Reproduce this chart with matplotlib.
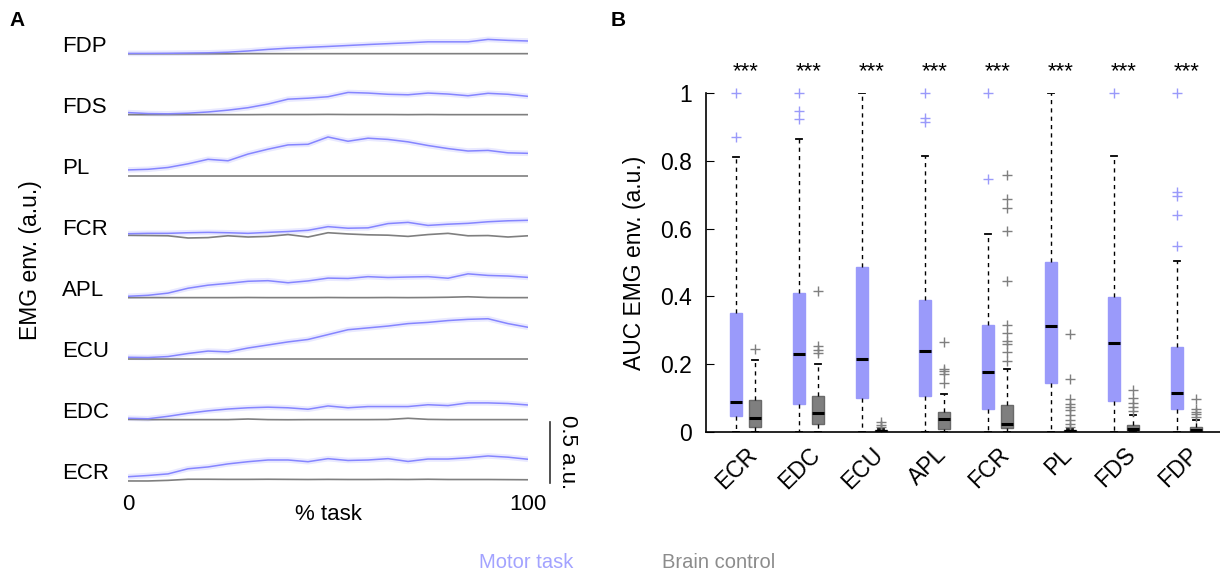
import numpy as np
import matplotlib
matplotlib.use('Agg')
import matplotlib.pyplot as plt

plt.rcParams['font.family'] = ['Liberation Sans', 'DejaVu Sans']

# ---- panel A: mean EMG envelope across the task (a.u., above each baseline) ----
task_pct = [0, 5, 10, 15, 20, 25, 30, 35, 40, 45, 50, 55, 60, 65, 70, 75, 80, 85, 90, 95, 100]
trace_muscles = ['ECR', 'EDC', 'ECU', 'APL', 'FCR', 'PL', 'FDS', 'FDP']  # bottom to top

motor_traces = {
    'ECR': [0.035, 0.045, 0.058, 0.100, 0.115, 0.140, 0.158, 0.172, 0.172, 0.158, 0.183,
            0.168, 0.172, 0.183, 0.160, 0.180, 0.180, 0.190, 0.205, 0.195, 0.178],
    'EDC': [0.014, 0.010, 0.030, 0.055, 0.075, 0.090, 0.100, 0.105, 0.100, 0.088, 0.115,
            0.100, 0.110, 0.110, 0.110, 0.125, 0.118, 0.140, 0.140, 0.135, 0.123],
    'ECU': [0.014, 0.012, 0.020, 0.045, 0.065, 0.058, 0.090, 0.115, 0.140, 0.160, 0.200,
            0.240, 0.255, 0.270, 0.290, 0.300, 0.315, 0.325, 0.330, 0.290, 0.260],
    'APL': [0.014, 0.022, 0.040, 0.080, 0.105, 0.120, 0.137, 0.142, 0.125, 0.140, 0.163,
            0.160, 0.175, 0.168, 0.172, 0.175, 0.162, 0.198, 0.185, 0.180, 0.169],
    'FCR': [0.027, 0.030, 0.030, 0.035, 0.038, 0.035, 0.030, 0.038, 0.045, 0.055, 0.085,
            0.072, 0.075, 0.110, 0.120, 0.095, 0.105, 0.112, 0.125, 0.133, 0.137],
    'PL':  [0.050, 0.055, 0.070, 0.100, 0.137, 0.125, 0.180, 0.220, 0.255, 0.260, 0.320,
            0.285, 0.310, 0.300, 0.280, 0.250, 0.225, 0.205, 0.210, 0.190, 0.186],
    'FDS': [0.020, 0.012, 0.010, 0.015, 0.025, 0.040, 0.060, 0.090, 0.130, 0.138, 0.150,
            0.185, 0.180, 0.170, 0.166, 0.180, 0.172, 0.158, 0.178, 0.170, 0.153],
    'FDP': [0.005, 0.005, 0.006, 0.008, 0.010, 0.015, 0.025, 0.038, 0.048, 0.055, 0.062,
            0.070, 0.078, 0.085, 0.092, 0.100, 0.100, 0.100, 0.120, 0.112, 0.107],
}
brain_traces = {
    'ECR': [0.000, 0.000, 0.005, 0.014, 0.014, 0.013, 0.013, 0.014, 0.013, 0.012, 0.013,
            0.012, 0.012, 0.013, 0.012, 0.014, 0.012, 0.012, 0.012, 0.011, 0.010],
    'EDC': [0.005, 0.003, 0.003, 0.003, 0.003, 0.003, 0.008, 0.003, 0.002, 0.003, 0.003,
            0.003, 0.003, 0.004, 0.014, 0.005, 0.003, 0.003, 0.003, 0.003, 0.003],
    'ECU': [0.003] * 21,
    'APL': [0.003, 0.003, 0.003, 0.003, 0.003, 0.003, 0.004, 0.003, 0.003, 0.003, 0.004,
            0.003, 0.003, 0.004, 0.003, 0.004, 0.006, 0.010, 0.004, 0.003, 0.003],
    'FCR': [0.014, 0.012, 0.010, -0.008, -0.005, 0.010, 0.000, 0.005, 0.020, 0.000, 0.035,
            0.025, 0.018, 0.015, 0.005, 0.020, 0.030, 0.010, 0.012, 0.000, 0.010],
    'PL':  [0.003] * 21,
    'FDS': [0.003, 0.003, 0.003, 0.003, 0.003, 0.003, 0.003, 0.004, 0.004, 0.004, 0.005,
            0.004, 0.004, 0.004, 0.003, 0.004, 0.003, 0.003, 0.003, 0.003, 0.003],
    'FDP': [0.002, 0.002, 0.002, 0.002, 0.002, 0.002, 0.003, 0.003, 0.003, 0.003, 0.003,
            0.003, 0.003, 0.003, 0.003, 0.003, 0.003, 0.003, 0.003, 0.003, 0.003],
}

# ---- panel B: AUC box statistics ----
box_muscles = ['ECR', 'EDC', 'ECU', 'APL', 'FCR', 'PL', 'FDS', 'FDP']
# (q1, median, q3, whisker low, whisker high)
motor_box = [
    (0.047, 0.088, 0.352, 0.0, 0.811),
    (0.082, 0.230, 0.410, 0.0, 0.865),
    (0.100, 0.214, 0.486, 0.0, 1.000),
    (0.107, 0.238, 0.390, 0.0, 0.814),
    (0.069, 0.178, 0.317, 0.0, 0.585),
    (0.144, 0.314, 0.501, 0.0, 1.000),
    (0.091, 0.263, 0.397, 0.0, 0.814),
    (0.067, 0.114, 0.251, 0.0, 0.504),
]
motor_fliers = [
    [1.0, 0.869],
    [1.0, 0.948, 0.923],
    [],
    [1.0, 0.926, 0.913],
    [1.0, 0.746],
    [],
    [1.0],
    [1.0, 0.709, 0.697, 0.640, 0.550],
]
brain_box = [
    (0.015, 0.041, 0.094, 0.0, 0.211),
    (0.025, 0.057, 0.106, 0.0, 0.201),
    (0.000, 0.002, 0.005, 0.0, 0.008),
    (0.010, 0.037, 0.060, 0.0, 0.111),
    (0.012, 0.023, 0.081, 0.0, 0.187),
    (0.000, 0.002, 0.005, 0.0, 0.010),
    (0.005, 0.010, 0.022, 0.0, 0.049),
    (0.003, 0.007, 0.015, 0.0, 0.034),
]
brain_fliers = [
    [0.246],
    [0.415, 0.253, 0.241, 0.232],
    [0.030, 0.020, 0.015],
    [0.266, 0.187, 0.179, 0.172, 0.145],
    [0.758, 0.688, 0.661, 0.593, 0.445, 0.315, 0.293, 0.268, 0.261, 0.236, 0.209],
    [0.289, 0.157, 0.096, 0.084, 0.074, 0.066, 0.049, 0.034, 0.025, 0.015],
    [0.125, 0.100, 0.086, 0.074, 0.062],
    [0.096, 0.069, 0.059, 0.052, 0.044],
]

MOTOR = '#9a9afa'
MOTOR_LINE = '#8585ff'
BRAIN = '#7f7f7f'

fig = plt.figure(figsize=(12.2, 5.77), dpi=100)

# ================= panel A =================
axA = fig.add_axes([128 / 1220, 87 / 577, 400 / 1220, 460 / 577])
axA.set_xlim(0, 100)
axA.set_ylim(-0.074, 3.697)
for i, m in enumerate(trace_muscles):
    base = 0.5 * i
    mv = base + np.array(motor_traces[m])
    bv = base + np.array(brain_traces[m])
    axA.plot(task_pct, mv, color=MOTOR_LINE, lw=4, alpha=0.18, solid_capstyle='butt')
    axA.plot(task_pct, bv, color=BRAIN, lw=1.2)
    axA.plot(task_pct, mv, color=MOTOR_LINE, lw=1.1)
    axA.text(-16.5, base + 0.015, m, fontsize=16, ha='left', va='baseline')

for s in axA.spines.values():
    s.set_visible(False)
axA.set_yticks([])
axA.set_xticks([0, 100])
axA.set_xticklabels(['0', '100'], fontsize=16)
axA.tick_params(axis='x', length=0, pad=3)
axA.set_xlabel('% task', fontsize=16, labelpad=-8)
axA.set_ylabel('EMG env. (a.u.)', fontsize=16.5, labelpad=62)
# scale bar
axA.plot([105.5, 105.5], [-0.016, 0.484], color='#333333', lw=1.2, clip_on=False)
axA.text(110, 0.238, '0.5 a.u.', rotation=-90, fontsize=16, ha='center', va='center')

# ================= panel B =================
axB = fig.add_axes([706 / 1220, 145 / 577, 514 / 1220, 339 / 577])
pos = np.arange(1, len(box_muscles) + 1)
off = 0.15


def make_stats(boxes, fliers):
    out = []
    for (q1, med, q3, lo, hi), fl in zip(boxes, fliers):
        out.append(dict(q1=q1, med=med, q3=q3, whislo=lo, whishi=hi, fliers=fl))
    return out


for stats, shift, fc, ec in [(make_stats(motor_box, motor_fliers), -off, MOTOR, MOTOR),
                             (make_stats(brain_box, brain_fliers), off, BRAIN, '#6a6a6a')]:
    axB.bxp(stats, positions=pos + shift, widths=0.2, patch_artist=True,
            capwidths=0.1, manage_ticks=False,
            boxprops=dict(facecolor=fc, edgecolor=ec, linewidth=1.0),
            medianprops=dict(color='black', linewidth=2.2),
            whiskerprops=dict(color='black', linewidth=1.0, linestyle=(0, (3, 3))),
            capprops=dict(color='black', linewidth=1.3),
            flierprops=dict(marker='+', markeredgecolor=fc, markersize=7,
                            markeredgewidth=1.0, linestyle='none', clip_on=False))

for p in pos:
    axB.text(p, 1.062, '***', fontsize=16, ha='center', va='center')

axB.set_xlim(0.373, 8.53)
axB.set_ylim(0, 1)
axB.spines['top'].set_visible(False)
axB.spines['right'].set_visible(False)
axB.spines['left'].set_linewidth(1.2)
axB.spines['bottom'].set_linewidth(1.2)
axB.set_yticks([0, 0.2, 0.4, 0.6, 0.8, 1.0])
axB.set_yticklabels(['0', '0.2', '0.4', '0.6', '0.8', '1'], fontsize=16.5)
axB.tick_params(axis='y', direction='in', length=6, pad=10)
axB.set_xticks(pos)
axB.set_xticklabels(box_muscles, fontsize=16.5, rotation=45, ha='right',
                    rotation_mode='anchor')
axB.tick_params(axis='x', length=0, pad=8)
axB.set_ylabel('AUC EMG env. (a.u.)', fontsize=16.5, labelpad=10)

# panel letters and legend
fig.text(9 / 1220, 1 - 20 / 577, 'A', fontsize=15, fontweight='bold', va='center')
fig.text(611 / 1220, 1 - 20 / 577, 'B', fontsize=15, fontweight='bold', va='center')
fig.text(526 / 1220, 1 - 562 / 577, 'Motor task', fontsize=14.5, color='#a3a3ff',
         ha='center', va='center')
fig.text(719 / 1220, 1 - 562 / 577, 'Brain control', fontsize=14.5, color='#8c8c8c',
         ha='center', va='center')

fig.savefig('out.png', dpi=100)
